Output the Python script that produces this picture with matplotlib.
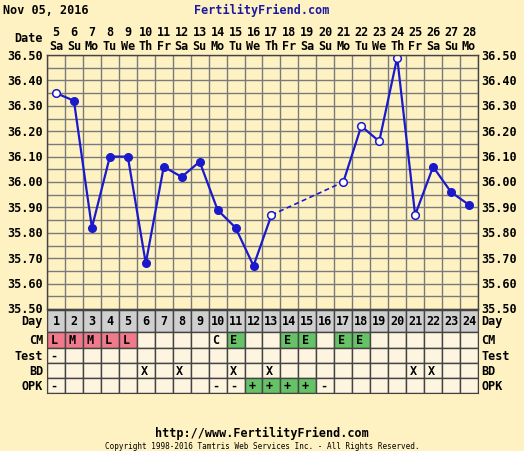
import matplotlib
matplotlib.use("Agg")
import matplotlib.pyplot as plt
import numpy as np

days = list(range(1, 25))
dates = [5,6,7,8,9,10,11,12,13,14,15,16,17,18,19,20,21,22,23,24,25,26,27,28]
weekdays = ["Sa","Su","Mo","Tu","We","Th","Fr","Sa","Su","Mo","Tu","We","Th","Fr","Sa","Su","Mo","Tu","We","Th","Fr","Sa","Su","Mo"]
temps = [36.35,36.32,35.82,36.10,36.10,35.68,36.06,36.02,36.08,35.89,35.82,35.67,35.87,None,None,None,36.00,36.22,36.16,36.49,35.87,36.06,35.96,35.91]
open_days = [1,13,17,18,19,20,21]
cm = {1:"L",2:"M",3:"M",4:"L",5:"L",10:"C",11:"E",14:"E",15:"E",17:"E",18:"E"}
test = {1:"-"}
bd = {6:"X",8:"X",11:"X",13:"X",21:"X",22:"X"}
opk = {1:"-",10:"-",11:"-",12:"+",13:"+",14:"+",15:"+",16:"-"}
yticks = [36.50,36.40,36.30,36.20,36.10,36.00,35.90,35.80,35.70,35.60,35.50]

W, H = 524, 452
bg = "#FFF2C2"; cell = "#FDF5E0"; gridc = "#7A7A7A"; blue = "#1A1ACC"
fig = plt.figure(figsize=(W/100, H/100), dpi=100, facecolor=bg)
F = dict(family="DejaVu Sans Mono", weight="bold", size=8.5)
L, R, T, B = 47, 478, 56, 310
ax = fig.add_axes([L/W, 1-B/H, (R-L)/W, (B-T)/H])
ax.set_facecolor(bg)
ax.set_xlim(0.5, 24.5); ax.set_ylim(35.5, 36.5)
for x in np.arange(0.5, 25, 1): ax.axvline(x, color=gridc, lw=1)
for y in np.arange(35.5, 36.51, 0.05): ax.axhline(y, color=gridc, lw=1)
for s in ax.spines.values(): s.set_color("#444"); s.set_linewidth(1)
ax.set_xticks([]); ax.set_yticks([])
# segments
xs = np.array(days, float); ys = np.array([t if t is not None else np.nan for t in temps])
ax.plot(xs[:13], ys[:13], color=blue, lw=1.6)
ax.plot([13, 17], [ys[12], ys[16]], color=blue, lw=1.2, ls=(0, (3, 2)))
ax.plot(xs[16:], ys[16:], color=blue, lw=1.6)
for d, t in zip(days, temps):
    if t is None: continue
    if d in open_days:
        ax.plot(d, t, 'o', ms=5.5, mfc="white", mec=blue, mew=1.1)
    else:
        ax.plot(d, t, 'o', ms=5.5, color=blue)
for v in yticks:
    fig.text((L-4)/W, 1-(B-(v-35.5)/1.0*(B-T))/H, f"{v:.2f}", ha="right", va="center", **F)
    fig.text((R+3)/W, 1-(B-(v-35.5)/1.0*(B-T))/H, f"{v:.2f}", ha="left", va="center", **F)
for d, dt, wd in zip(days, dates, weekdays):
    xp = L + (d-0.5)*(R-L)/24
    fig.text(xp/W, 1-33/H, str(dt), ha="center", va="center", **F)
    fig.text(xp/W, 1-46/H, wd, ha="center", va="center", **F)
fig.text(43/W, 1-39/H, "Date", ha="right", va="center", **F)
fig.text(3/W, 1-10/H, "Nov 05, 2016", ha="left", va="center", **F)
fig.text(262/W, 1-10/H, "FertilityFriend.com", ha="center", va="center", color="#1a1aa0", **F)
fig.text(262/W, 1-433/H, "http://www.FertilityFriend.com", ha="center", va="center", **F)
fig.text(262/W, 1-447/H, "Copyright 1998-2016 Tamtris Web Services Inc. - All Rights Reserved.",
         ha="center", va="center", family="DejaVu Sans Mono", size=5.5)

# table
TT, TB = 311, 394
tax = fig.add_axes([L/W, 1-TB/H, (R-L)/W, (TB-TT)/H])
tax.set_xlim(0.5, 24.5); tax.set_ylim(TB, TT)
tax.set_xticks([]); tax.set_yticks([])
for s in tax.spines.values(): s.set_color("#444")
bounds = [311, 333, 349, 364, 379, 394]
names = ["Day", "CM", "Test", "BD", "OPK"]
rows = [None, cm, test, bd, opk]
for i in range(5):
    y0, y1 = bounds[i], bounds[i+1]
    for d in days:
        if i == 0:
            fc = "#CFCFCF"; txt = str(d)
        else:
            txt = rows[i].get(d, "")
            fc = cell
            if i == 1 and txt in ("L", "M"): fc = "#F07A8C"
            if (i == 1 and txt == "E") or (i == 4 and txt == "+"): fc = "#66C266"
        tax.add_patch(plt.Rectangle((d-0.5, y0), 1, y1-y0, fc=fc, ec="#444", lw=1))
        if txt:
            tax.text(d-0.1 if i else d, (y0+y1)/2, txt, ha="center", va="center", **F)
    fig.text((L-4)/W, 1-(y0+y1)/2/H, names[i], ha="right", va="center", **F)
    fig.text((R+3)/W, 1-(y0+y1)/2/H, names[i], ha="left", va="center", **F)
fig.savefig("out.png", dpi=100, facecolor=bg)
